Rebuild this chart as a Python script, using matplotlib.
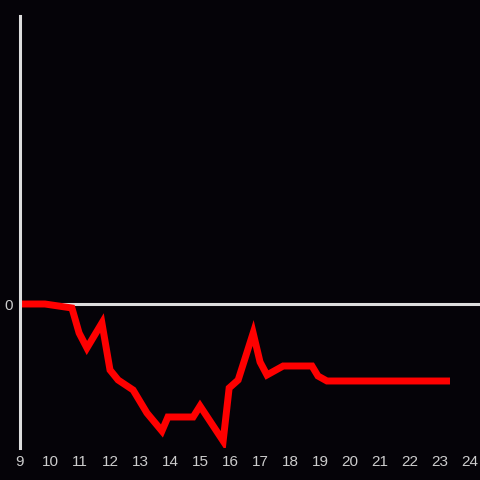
import matplotlib
matplotlib.use('Agg')
import matplotlib.pyplot as plt

# hours of the day and the value (change from opening)
hours = [9.0, 9.83, 10.73, 10.97, 11.23, 11.73, 12.0, 12.27, 12.77, 13.23, 13.73,
         13.93, 14.77, 15.0, 15.77, 15.97, 16.27, 16.77, 17.0, 17.23, 17.77,
         18.73, 18.93, 19.23, 23.33]
values = [0.0, 0.0, -0.4, -2.9, -4.4, -1.9, -6.6, -7.6, -8.6, -10.9, -12.7,
          -11.3, -11.3, -10.2, -13.7, -8.4, -7.6, -2.9, -5.8, -7.1, -6.2,
          -6.2, -7.2, -7.7, -7.7]
xticks = list(range(9, 25))

bg = '#050308'
fg = '#dddddd'

fig = plt.figure(figsize=(4.8, 4.8), dpi=100, facecolor=bg)
ax = fig.add_axes([20/480, 32/480, 460/480, 432/480], facecolor=bg)

ax.axhline(0, color=fg, lw=2.2, zorder=1)
ax.plot(hours, values, color='#ff0000', lw=5, solid_joinstyle='miter',
        solid_capstyle='butt', zorder=2)

ax.set_xlim(9, 24.33)
ax.set_ylim(-14.4, 28.8)
ax.set_xticks(xticks)
ax.set_xticklabels([str(t) for t in xticks])
ax.set_yticks([0])
ax.set_yticklabels(['0'])
ax.tick_params(length=0, colors='#cccccc', labelsize=11, pad=5)
for lab in ax.get_xticklabels() + ax.get_yticklabels():
    lab.set_family('Liberation Sans')

for s in ['top', 'right', 'bottom']:
    ax.spines[s].set_visible(False)
ax.spines['left'].set_color(fg)
ax.spines['left'].set_linewidth(2.2)

fig.savefig('out.png', dpi=100, facecolor=bg)
